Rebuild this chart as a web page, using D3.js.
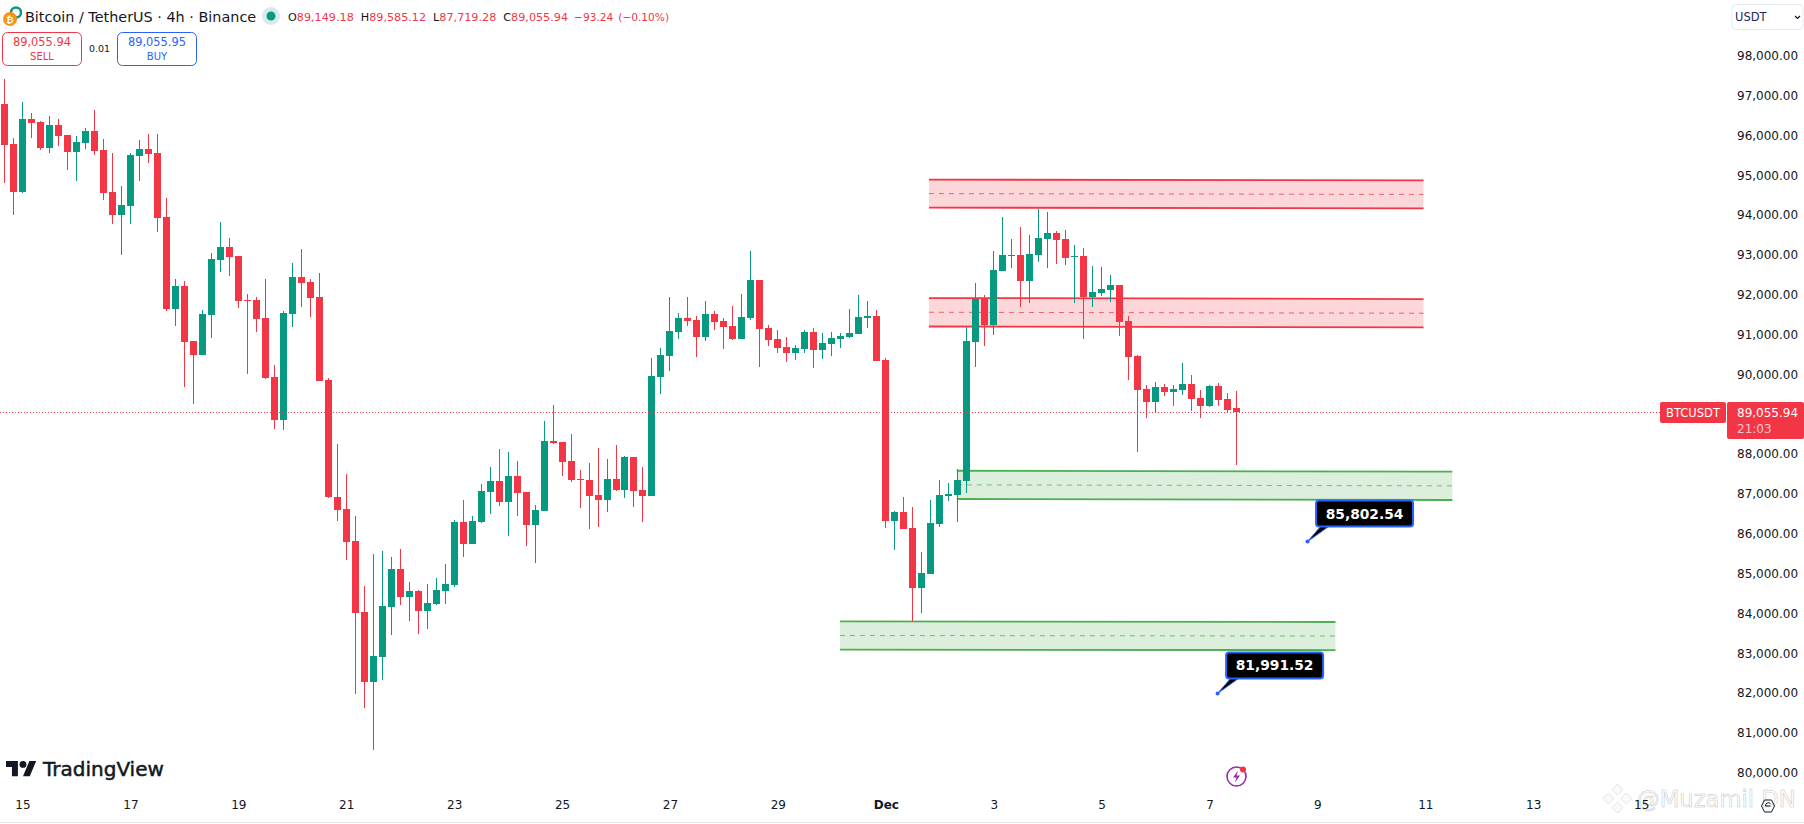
<!DOCTYPE html>
<html>
<head>
<meta charset="utf-8">
<title>BTCUSDT 4h</title>
<script src="https://cdn.jsdelivr.net/npm/d3@7/dist/d3.min.js"></script>
<style>
  html, body { margin: 0; padding: 0; background: #fff; }
  svg { display: block; }
  text { font-family: "DejaVu Sans", sans-serif; }
</style>
</head>
<body>
<div id="chart"></div>
<script>
// 4h candles
var opens = [
  96789,95785,94579,96412,96337,95684,96262,96011,95584,95810,
  96111,95634,94579,94002,94228,95483,95659,95559,93952,91642,
  92219,90839,90487,91491,92872,93199,92973,91868,91868,91416,
  89935,88855,91516,92445,92320,91943,89859,86922,86621,85817,
  84035,82277,82905,84160,85114,84411,84562,84060,84235,84562,
  84712,86294,85742,86294,87047,87324,86796,87449,87047,86219,
  86570,88328,88303,87826,87374,87349,86972,86846,87374,87098,
  87926,87098,86947,89935,90462,91064,91416,91366,90939,91516,
  91341,91215,90889,91416,92370,91165,90889,90688,90537,90638,
  91064,90613,90763,90889,90939,91014,91416,91466,90361,86319,
  86545,86144,84637,84989,86244,86947,86972,87324,90813,91893,
  91240,92596,92973,92998,92345,92998,93399,93550,93399,92948,
  92973,91943,92044,92119,92245,91341,90462,89633,89307,89684,
  89558,89608,89759,89407,89207,89709,89382,89149.18
];
var highs = [
  97417,95935,96839,96563,96362,96488,96412,96011,95985,96186,
  96638,95910,95559,94730,95559,95885,96036,96036,94429,92395,
  92345,90839,91617,93048,93826,93425,92973,92019,91943,92395,
  90236,91592,92797,93148,92395,92546,89910,88252,87499,86445,
  84687,85491,85566,85415,85616,84788,84587,84738,84888,85240,
  86344,86846,86445,87248,87675,88127,88052,87826,87047,86721,
  88830,89232,88303,88504,87600,87775,88152,87876,88227,87951,
  87926,87675,90412,90663,91943,91542,91943,91466,91843,91592,
  91416,91717,92019,93098,92370,91240,91115,90939,90738,91115,
  91165,91039,91064,91039,91642,91993,91843,91617,90412,86570,
  86922,86671,85541,86846,87349,87273,87625,91190,92295,91993,
  93098,93952,93399,93701,93500,94153,94077,93600,93625,93249,
  93173,92722,92696,92496,92245,91466,90487,89734,89809,89759,
  89734,90286,89985,89608,89734,89784,89533,89585.12
];
var lows = [
  94805,94002,94554,95935,95634,95559,95734,95132,94856,95659,
  95508,94379,93776,92998,93776,94856,95308,93575,91592,91215,
  89684,89257,90487,90914,92571,92470,91667,90010,91064,89884,
  88629,88604,91190,91692,91441,89834,86897,86319,85340,81976,
  81624,80570,82327,83457,84210,83809,83482,83608,84210,84235,
  84662,85415,85742,86269,86495,86696,85943,86445,85692,85265,
  86570,88252,87449,87298,86646,86118,86169,86545,87072,86897,
  86671,86294,86947,89508,90085,90889,91215,90437,90839,91115,
  90638,90864,90889,91366,90186,90713,90537,90311,90361,90537,
  90161,90387,90462,90663,90914,91014,91165,90336,86144,85591,
  86118,83809,84009,84989,86169,86821,86294,87022,90186,90713,
  90989,92596,92671,91692,91793,92822,92671,92772,92747,91793,
  90889,91692,91968,91818,90964,89859,88052,88905,89031,89458,
  89207,89483,89081,88905,89181,89207,89056,87719.28
];
var closes = [
  95759,94579,96412,96312,95684,96262,95985,95584,95835,96111,
  95609,94554,94002,94253,95508,95659,95534,93927,91642,92219,
  90813,90487,91516,92897,93199,92948,91843,91843,91391,89910,
  88855,91542,92445,92295,91918,89834,86922,86595,85792,84009,
  82277,82930,84185,85114,84411,84562,84060,84260,84587,84738,
  86294,85742,86319,87072,87324,86796,87449,87022,86219,86595,
  88328,88278,87801,87349,87349,86947,86846,87374,87098,87926,
  87072,86947,89960,90487,91090,91416,91341,90939,91516,91316,
  91190,90889,91441,92370,91140,90864,90663,90537,90663,91064,
  90613,90788,90914,90964,91039,91441,91466,90336,86319,86545,
  86118,84637,85014,86269,86972,86997,87349,90839,91893,91240,
  92621,92998,92998,92345,93023,93425,93550,93374,92922,92973,
  91943,92069,92144,92245,91316,90437,89608,89307,89684,89558,
  89633,89759,89382,89207,89709,89357,89106,89055.94
];

var priceTicks = [98000,97000,96000,95000,94000,93000,92000,91000,90000,88000,87000,86000,85000,84000,83000,82000,81000,80000];
// bar number of each date label, 12 bars = 2 days
var dateBars = [2,14,26,38,50,62,74,86,98,110,122,134,146,158,170,182];
var dateLabels = ["15","17","19","21","23","25","27","29","Dec","3","5","7","9","11","13","15"];

// drawn zones, sides in bars and prices
var zoneKinds  = ["red","red","green","green"];
var zoneFrom   = [102.8,102.8,105.9,92.9];
var zoneTo     = [157.8,157.8,161,148];
var zoneTopA   = [94891,91918,87582,83801];
var zoneTopB   = [94871,91893,87557,83784];
var zoneBotA   = [94188,91203,86872,83088];
var zoneBotB   = [94168,91180,86847,83080];

var calloutBars   = [144.9,134.9];
var calloutPrices = [85802.54,81991.52];

var lastPrice = 89055.94;
var RED = "#f23645", GREEN = "#089981", BLUE = "#2962ff", INK = "#131722";

var w = 1804, h = 824;

var x = d3.scaleLinear().domain([0, 137]).range([4.5, 1236.5]);
var y = d3.scaleLinear().domain([80000, 98000]).range([772.7, 55.8]);
var fmt = d3.format(",.2f");

var svg = d3.select("#chart").append("svg")
    .attr("width", w)
    .attr("height", h);

svg.append("rect").attr("width", w).attr("height", h).attr("fill", "#fff");

// watermark sits under the axis labels
var mark = svg.append("g").attr("transform", "translate(1617.5,798.5)").attr("fill", "#fafafa").attr("stroke", "#dcdcdc").attr("stroke-width", 0.8);
[[0,-9],[-9,0],[9,0],[0,9]].forEach(function(p){
  mark.append("path").attr("d", "M0,-5.5L5.5,0L0,5.5L-5.5,0Z").attr("transform", "translate(" + p[0] + "," + p[1] + ")");
});
svg.append("text").attr("x", 1637).attr("y", 806.5).attr("font-size", 22.7).attr("font-family", "Liberation Sans")
    .attr("fill", "#fff").attr("stroke", "#c4c4c4").attr("stroke-width", 0.5).text("@Muzamil DN");

// zones go under the candles
var zoneColor = { red: RED, green: "#4caf50" };
var zoneLine = d3.line().x(function(d){ return x(d[0]); }).y(function(d){ return y(d[1]); });
var zoneArea = d3.area().x(function(d){ return x(d[0]); }).y0(function(d){ return y(d[1]); }).y1(function(d){ return y(d[2]); });

zoneKinds.forEach(function(kind, i){
  var c = zoneColor[kind], g = svg.append("g").attr("class", "zone");
  g.append("path")
      .attr("d", zoneArea([[zoneFrom[i], zoneTopA[i], zoneBotA[i]], [zoneTo[i], zoneTopB[i], zoneBotB[i]]]))
      .attr("fill", c).attr("fill-opacity", 0.2);
  [[zoneTopA[i], zoneTopB[i]], [zoneBotA[i], zoneBotB[i]]].forEach(function(p){
    g.append("path")
        .attr("d", zoneLine([[zoneFrom[i], p[0]], [zoneTo[i], p[1]]]))
        .attr("fill", "none").attr("stroke", c).attr("stroke-width", 1.8);
  });
  g.append("path")
      .attr("d", zoneLine([[zoneFrom[i], (zoneTopA[i] + zoneBotA[i]) / 2], [zoneTo[i], (zoneTopB[i] + zoneBotB[i]) / 2]]))
      .attr("fill", "none").attr("stroke", c).attr("stroke-opacity", 0.75).attr("stroke-dasharray", "5,5");
});

// candles
var bars = svg.append("g").attr("class", "candles").selectAll("g")
    .data(d3.range(opens.length))
    .enter().append("g")
    .attr("fill", function(i){ return closes[i] >= opens[i] ? GREEN : RED; });

bars.append("rect")
    .attr("x", function(i){ return Math.floor(x(i)); })
    .attr("width", 1)
    .attr("y", function(i){ return Math.round(y(highs[i])); })
    .attr("height", function(i){ return Math.round(y(lows[i])) - Math.round(y(highs[i])); });

bars.append("rect")
    .attr("x", function(i){ return Math.floor(x(i)) - 3; })
    .attr("width", 7)
    .attr("y", function(i){ return Math.round(y(Math.max(opens[i], closes[i]))); })
    .attr("height", function(i){
      return Math.max(1, Math.round(y(Math.min(opens[i], closes[i]))) - Math.round(y(Math.max(opens[i], closes[i]))));
    });

// last price line
svg.append("line")
    .attr("x1", 0).attr("x2", 1660)
    .attr("y1", Math.round(y(lastPrice)) + 0.5).attr("y2", Math.round(y(lastPrice)) + 0.5)
    .attr("stroke", RED).attr("stroke-dasharray", "1,2");

// axes
var yAxis = svg.append("g")
    .attr("transform", "translate(1737,0)")
    .call(d3.axisRight(y).tickValues(priceTicks).tickSize(0).tickPadding(0).tickFormat(fmt));
yAxis.select(".domain").remove();
yAxis.selectAll("text").attr("font-size", 12).attr("font-family", "DejaVu Sans").attr("fill", INK);

var xAxis = svg.append("g")
    .attr("transform", "translate(0,800)")
    .call(d3.axisBottom(x).tickValues(dateBars).tickSize(0).tickPadding(0)
      .tickFormat(function(d, i){ return dateLabels[i]; }));
xAxis.select(".domain").remove();
xAxis.selectAll("text").attr("font-size", 12).attr("font-family", "DejaVu Sans").attr("fill", INK)
    .attr("font-weight", function(d, i){ return dateLabels[i] == "Dec" ? "bold" : "normal"; });

svg.append("line").attr("x1", 0).attr("x2", w).attr("y1", 822.5).attr("y2", 822.5).attr("stroke", "#e0e3eb");

// price tags on the axis
svg.append("rect").attr("x", 1660).attr("y", 402).attr("width", 66).attr("height", 21).attr("rx", 2).attr("fill", RED);
svg.append("text").attr("x", 1693).attr("y", 417).attr("text-anchor", "middle")
    .attr("font-size", 11.5).attr("fill", "#fff").text("BTCUSDT");
svg.append("rect").attr("x", 1727).attr("y", 402).attr("width", 77).attr("height", 37).attr("rx", 2).attr("fill", RED);
svg.append("text").attr("x", 1737).attr("y", 417).attr("font-size", 12).attr("fill", "#fff").text(fmt(lastPrice));
svg.append("text").attr("x", 1737).attr("y", 433).attr("font-size", 12).attr("fill", "#fcc8cd").text("21:03");

// callouts
calloutBars.forEach(function(b, i){
  var px = x(b), py = y(calloutPrices[i]), bx = px + 8.5, by = py - 41;
  var g = svg.append("g").attr("class", "callout");
  g.append("path")
      .attr("d", "M" + px + "," + py + "L" + (px + 13) + "," + (by + 26) + "L" + (px + 21) + "," + (by + 26) + "Z")
      .attr("fill", "#000").attr("stroke", BLUE).attr("stroke-width", 1);
  g.append("circle").attr("cx", px).attr("cy", py).attr("r", 2).attr("fill", BLUE);
  g.append("rect").attr("x", bx).attr("y", by).attr("width", 97).attr("height", 26).attr("rx", 3)
      .attr("fill", "#000").attr("stroke", BLUE).attr("stroke-width", 2);
  g.append("text").attr("x", bx + 48.5).attr("y", by + 18).attr("text-anchor", "middle")
      .attr("font-size", 13.8).attr("font-weight", "bold").attr("fill", "#fff").text(fmt(calloutPrices[i]));
});

// header
svg.append("circle").attr("cx", 16).attr("cy", 12.5).attr("r", 5).attr("fill", "#fff").attr("stroke", "#089981").attr("stroke-width", 2.5);
svg.append("circle").attr("cx", 10).attr("cy", 19).attr("r", 7).attr("fill", "#f7931a");
svg.append("text").attr("x", 10).attr("y", 22.5).attr("text-anchor", "middle").attr("font-size", 9).attr("font-weight", "bold").attr("fill", "#fff").text("₿");
svg.append("text").attr("x", 25).attr("y", 22).attr("font-size", 14.4).attr("font-family", "Open Sans").attr("fill", INK)
    .text("Bitcoin / TetherUS · 4h · Binance");
svg.append("circle").attr("cx", 271).attr("cy", 16).attr("r", 9).attr("fill", "#d8ebe8");
svg.append("circle").attr("cx", 271).attr("cy", 16).attr("r", 4.5).attr("fill", GREEN);

var ohlc = svg.append("text").attr("x", 288).attr("y", 21).attr("font-size", 11.2);
[["O", INK, 11.2, 0], ["89,149.18", RED, 11.2, 0], ["H", INK, 11.2, 7], ["89,585.12", RED, 11.2, 0], ["L", INK, 11.2, 7],
 ["87,719.28", RED, 11.2, 0], ["C", INK, 11.2, 7], ["89,055.94", RED, 11.2, 0], ["−93.24", RED, 10.6, 6], ["(−0.10%)", RED, 10.6, 5]]
  .forEach(function(p){
    ohlc.append("tspan").attr("fill", p[1]).attr("font-size", p[2]).attr("dx", p[3]).text(p[0]);
  });

// sell / buy boxes
[[2.5, RED, "89,055.94", "SELL"], [117.5, BLUE, "89,055.95", "BUY"]].forEach(function(b){
  svg.append("rect").attr("x", b[0]).attr("y", 32.5).attr("width", 79).attr("height", 33).attr("rx", 5)
      .attr("fill", "#fff").attr("stroke", b[1]);
  svg.append("text").attr("x", b[0] + 39.5).attr("y", 46).attr("text-anchor", "middle")
      .attr("font-size", 11.4).attr("fill", b[1]).text(b[2]);
  svg.append("text").attr("x", b[0] + 39.5).attr("y", 60).attr("text-anchor", "middle")
      .attr("font-size", 10).attr("fill", b[1]).text(b[3]);
});
svg.append("text").attr("x", 99.5).attr("y", 52).attr("text-anchor", "middle").attr("font-size", 9.5).attr("fill", INK).text("0.01");

// currency button
svg.append("rect").attr("x", 1732).attr("y", 4.5).attr("width", 71).attr("height", 25).attr("rx", 4)
    .attr("fill", "#fff").attr("stroke", "#e8eaf0");
svg.append("text").attr("x", 1735).attr("y", 21).attr("font-size", 11.5).attr("fill", "#1c2a5a").text("USDT");
svg.append("path").attr("d", "M1795,16l2.5,2.5l2.5,-2.5").attr("fill", "none").attr("stroke", INK).attr("stroke-width", 1.2);

// logo
var logo = svg.append("g").attr("transform", "translate(6,757.6) scale(0.85)").attr("fill", "#131722");
logo.append("path").attr("d", "M14 22H7V11H0V4h14v18zM28 22h-8l7.5-18h8L28 22z");
logo.append("circle").attr("cx", 20).attr("cy", 8).attr("r", 4);
svg.append("text").attr("x", 43).attr("y", 776).attr("font-family", "Inter").attr("font-size", 20).attr("font-weight", 500)
    .attr("stroke", "#131722").attr("stroke-width", 0.5).attr("fill", "#131722").text("TradingView");

// lightning icon
var bolt = svg.append("g").attr("transform", "translate(1236.5,776.5)");
bolt.append("circle").attr("r", 9.5).attr("fill", "none").attr("stroke", "#9c27b0").attr("stroke-width", 1.6);
bolt.append("path").attr("d", "M1.5,-6L-3.5,1H0L-1.5,6L3.5,-1H0Z").attr("fill", "#9c27b0");
bolt.append("circle").attr("cx", 6.5).attr("cy", -7).attr("r", 3).attr("fill", RED);

// settings icon
svg.append("path").attr("d", "M1761.5,806l3,-6h7l3,6l-3,6h-7Z").attr("fill", "none").attr("stroke", INK);
svg.append("path").attr("d", "M1765.5,806h5M1770.5,803.5a3,3 0 0 0 -5,2.5").attr("fill", "none").attr("stroke", INK);
</script>
</body>
</html>
